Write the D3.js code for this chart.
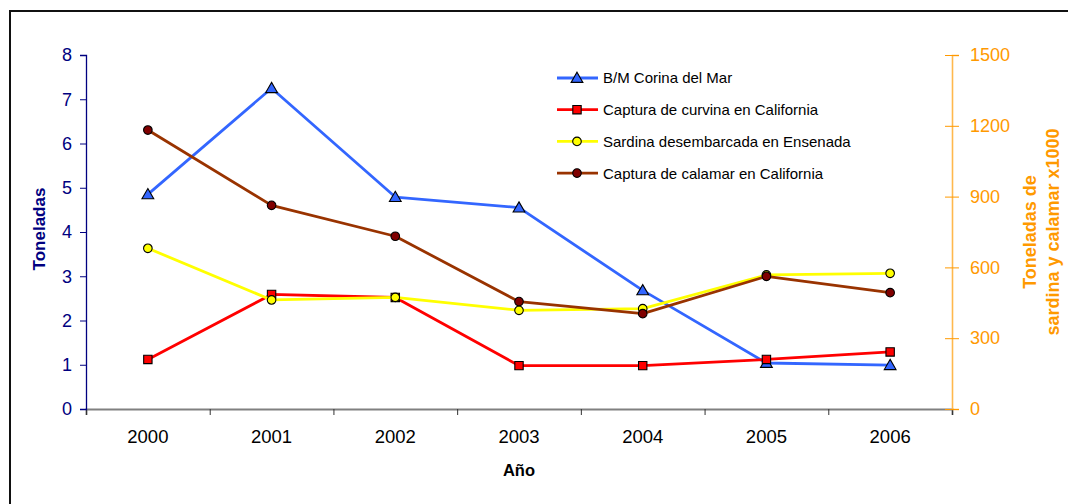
<!DOCTYPE html>
<html>
<head>
<meta charset="utf-8">
<script src="https://cdn.jsdelivr.net/npm/d3@7"></script>
<style>
  html, body { margin: 0; padding: 0; background: #fff; }
  svg { display: block; font-family: "Liberation Sans", Arial, sans-serif; }
</style>
</head>
<body>
<svg id="chart" width="1068" height="504"></svg>
<script>
// Years on the horizontal axis
const years = ["2000", "2001", "2002", "2003", "2004", "2005", "2006"];

// Left axis series (toneladas)
const corinaDelMar = [4.85, 7.25, 4.79, 4.55, 2.68, 1.04, 0.99];
const curvina = [1.12, 2.59, 2.52, 0.98, 0.98, 1.12, 1.29];

// Right axis series (toneladas x1000)
const sardina = [681, 462, 473, 418, 425, 568, 575];
const calamar = [1182, 863, 732, 455, 404, 562, 493];

// Tick values
const leftTicks = [0, 1, 2, 3, 4, 5, 6, 7, 8];
const rightTicks = [0, 300, 600, 900, 1200, 1500];

// Series names
const seriesNames = [
  "B/M Corina del Mar",
  "Captura de curvina en California",
  "Sardina desembarcada en Ensenada",
  "Captura de calamar en California"
];

const svg = d3.select("#chart");

// Outer frame
svg.append("rect")
  .attr("x", 10).attr("y", 11)
  .attr("width", 1200).attr("height", 600)
  .attr("fill", "none").attr("stroke", "#111").attr("stroke-width", 2);

const plot = { left: 86, right: 952, top: 55, bottom: 409 };

const x = d3.scaleBand().domain(years).range([plot.left, plot.right]).padding(0);
const xEdges = d3.scaleLinear().domain([0, years.length]).range([plot.left, plot.right]);
const yL = d3.scaleLinear().domain([0, 8]).range([plot.bottom, plot.top]);
const yR = d3.scaleLinear().domain([0, 1500]).range([plot.bottom, plot.top]);

const navy = "#000080";
const orange = "#FF9900";

// X axis: tick marks at category boundaries
const xTickAxis = svg.append("g")
  .attr("transform", `translate(0,${plot.bottom})`)
  .call(d3.axisBottom(xEdges).tickValues(d3.range(0, years.length + 1)).tickSize(6).tickFormat(""));
xTickAxis.select(".domain").attr("stroke", "#808080").attr("stroke-width", 2);
xTickAxis.selectAll(".tick line").attr("stroke", "#333");

// X axis: category labels centred in each band
const xLabelAxis = svg.append("g")
  .attr("transform", `translate(0,${plot.bottom})`)
  .call(d3.axisBottom(x).tickSize(0).tickPadding(21));
xLabelAxis.select(".domain").remove();
xLabelAxis.selectAll("text")
  .attr("font-size", 18.5).attr("fill", "#000")
  .attr("font-family", "Liberation Sans, Arial, sans-serif");

// Left axis
const leftAxis = svg.append("g")
  .attr("transform", `translate(${plot.left},0)`)
  .call(d3.axisLeft(yL).tickValues(leftTicks).tickSize(6).tickPadding(8));
leftAxis.select(".domain").attr("stroke", navy).attr("stroke-width", 1.3);
leftAxis.selectAll(".tick line").attr("stroke", navy);
leftAxis.selectAll("text")
  .attr("font-size", 18).attr("fill", navy)
  .attr("font-family", "Liberation Sans, Arial, sans-serif");

// Right axis, ticks crossing the axis line
const rightAxis = svg.append("g")
  .attr("transform", `translate(${plot.right},0)`)
  .call(d3.axisRight(yR).tickValues(rightTicks).tickFormat(d3.format("d")).tickSize(7).tickPadding(11));
rightAxis.select(".domain").attr("stroke", "#FFB84D").attr("stroke-width", 1.6);
rightAxis.selectAll(".tick line").attr("x1", -7).attr("stroke", orange);
rightAxis.selectAll("text")
  .attr("font-size", 18).attr("fill", orange)
  .attr("font-family", "Liberation Sans, Arial, sans-serif");

// Axis titles
svg.append("text")
  .attr("transform", `translate(45,229) rotate(-90)`)
  .attr("text-anchor", "middle")
  .attr("font-size", 17).attr("font-weight", "bold").attr("fill", navy)
  .text("Toneladas");

svg.append("text")
  .attr("x", (plot.left + plot.right) / 2).attr("y", 476)
  .attr("text-anchor", "middle")
  .attr("font-size", 16.5).attr("font-weight", "bold").attr("fill", "#000")
  .text("Año");

const rTitle = svg.append("text")
  .attr("transform", `translate(1036,232) rotate(-90)`)
  .attr("text-anchor", "middle")
  .attr("font-size", 18).attr("font-weight", "bold").attr("fill", orange);
rTitle.append("tspan").attr("x", 0).attr("dy", 0).text("Toneladas de");
rTitle.append("tspan").attr("x", 0).attr("dy", 23).text("sardina y calamar x1000");

// Series definitions
const series = [
  { name: seriesNames[0], values: corinaDelMar, y: yL, color: "#3366FF", fill: "#3366FF", shape: "triangle" },
  { name: seriesNames[1], values: curvina, y: yL, color: "#FF0000", fill: "#FF0000", shape: "square" },
  { name: seriesNames[2], values: sardina, y: yR, color: "#FFFF00", fill: "#FFFF00", shape: "circle" },
  { name: seriesNames[3], values: calamar, y: yR, color: "#993300", fill: "#800000", shape: "circle" }
];

function symbolFor(shape) {
  if (shape === "triangle") return d3.symbol().type(d3.symbolTriangle).size(60)();
  if (shape === "square") return d3.symbol().type(d3.symbolSquare).size(70)();
  return d3.symbol().type(d3.symbolCircle).size(58)();
}

const cx = d => x(d) + x.bandwidth() / 2;

series.forEach(s => {
  const pts = years.map((yr, i) => [cx(yr), s.y(s.values[i])]);
  svg.append("path")
    .attr("d", d3.line()(pts))
    .attr("fill", "none").attr("stroke", s.color).attr("stroke-width", 2.8)
    .attr("stroke-linejoin", "round");
  svg.append("g").selectAll("path")
    .data(pts)
    .join("path")
    .attr("transform", p => `translate(${p[0]},${p[1] + (s.shape === "triangle" ? 1 : 0)})`)
    .attr("d", symbolFor(s.shape))
    .attr("fill", s.fill).attr("stroke", "#000").attr("stroke-width", 1.1);
});

// Legend
const legend = svg.append("g");
series.forEach((s, i) => {
  const ly = 78 + i * 31.7;
  legend.append("line")
    .attr("x1", 557).attr("x2", 598).attr("y1", ly).attr("y2", ly)
    .attr("stroke", s.color).attr("stroke-width", 2.8);
  legend.append("path")
    .attr("transform", `translate(577,${ly + (s.shape === "triangle" ? 1 : 0)})`)
    .attr("d", symbolFor(s.shape))
    .attr("fill", s.fill).attr("stroke", "#000").attr("stroke-width", 1.1);
  legend.append("text")
    .attr("x", 603).attr("y", ly).attr("dy", "0.36em")
    .attr("font-size", 15).attr("fill", "#000")
    .text(s.name);
});
</script>
</body>
</html>
